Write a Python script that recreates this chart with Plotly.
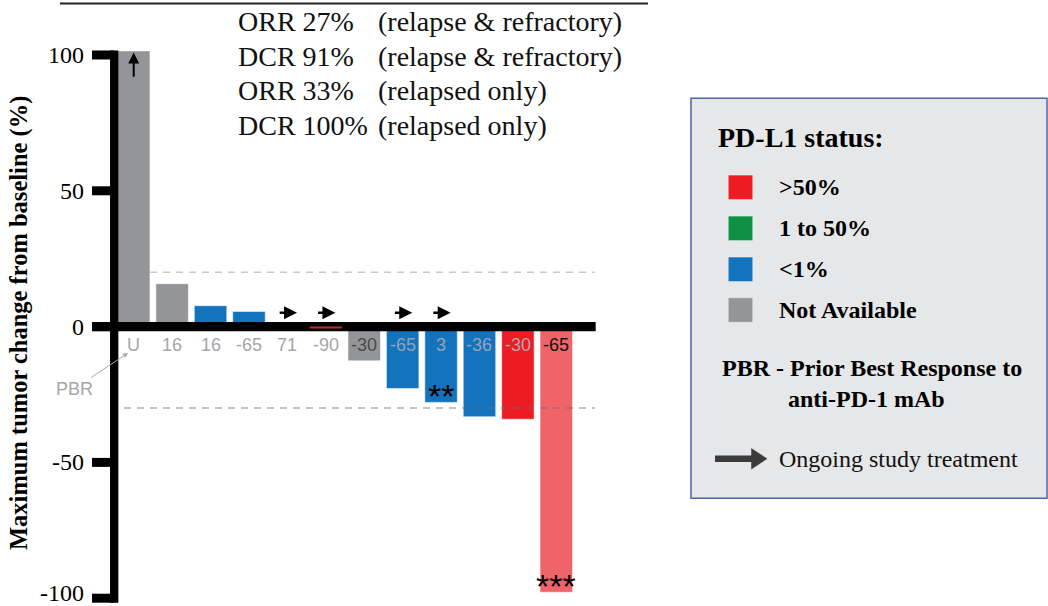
import plotly.graph_objects as go

W, H = 1048, 606

# ---------------- data ----------------
patients = list(range(12))
pct_change = [101.5, 15.8, 7.7, 5.6, 1.6, -0.3, -12.6, -22.8, -27.9, -33.2, -34.1, -97.8]
pdl1_status = ["NA", "NA", "<1%", "<1%", "1-50%", ">50%", "NA", "<1%", "<1%", "<1%", ">50%", ">50%b"]
pbr_labels = ["U", "16", "16", "-65", "71", "-90", "-30", "-65", "3", "-36", "-30", "-65"]
ongoing = [0, 0, 0, 0, 1, 1, 0, 1, 1, 0, 0, 0]
off_scale = [1, 0, 0, 0, 0, 0, 0, 0, 0, 0, 0, 0]
asterisks = ["", "", "", "", "", "", "", "", "**", "", "", "***"]
y_ticks = [-100, -50, 0, 50, 100]
y_tick_labels = ["-100", "-50", "0", "50", "100"]
ref_lines = [20, -30]
summary_left = ["ORR 27%", "DCR 91%", "ORR 33%", "DCR 100%"]
summary_right = ["(relapse & refractory)", "(relapse & refractory)",
                 "(relapsed only)", "(relapsed only)"]
legend_labels = [">50%", "1 to 50%", "<1%", "Not Available"]
legend_keys = [">50%", "1-50%", "<1%", "NA"]

# ---------------- styles ----------------
STATUS_COLORS = {">50%": "#ED1C24", "1-50%": "#0E9144", "<1%": "#1373BD",
                 "NA": "#939598", ">50%b": "#F06368"}
LABEL_COLORS = ["#a4a6a9"] * 6 + ["#4a4a4a"] + ["#93a3b8"] * 3 + ["#b9a4a6", "#111111"]
SERIF = "Liberation Serif"
SANS = "Liberation Sans"

def px(x):
    return x / W

def py(y):
    return 1 - y / H

# axis geometry
X_RANGE = [-0.513, 12.033]
Y_RANGE = [-102.87, 105.52]
X_DOMAIN = [114 / W, 596 / W]
Y_DOMAIN = [0, 566 / H]

fig = go.Figure()
fig.add_trace(go.Bar(
    x=patients, y=pct_change,
    marker=dict(color=[STATUS_COLORS[s] for s in pdl1_status],
                line=dict(color="rgba(255,255,255,0.55)", width=1)),
    width=0.846, showlegend=False, hoverinfo="skip",
))

shapes = []
# reference dashed lines
shapes.append(dict(type="line", xref="paper", yref="y", x0=px(124), x1=px(595),
                   y0=ref_lines[0], y1=ref_lines[0], layer="below",
                   line=dict(color="#c8c9cb", width=1.5, dash="7px,6px")))
shapes.append(dict(type="line", xref="paper", yref="y", x0=px(124), x1=px(595),
                   y0=ref_lines[1], y1=ref_lines[1], layer="above",
                   line=dict(color="rgba(110,110,110,0.55)", width=1.5, dash="7px,6px")))
# y ticks
for t in y_ticks:
    shapes.append(dict(type="line", xref="paper", yref="y", x0=px(92), x1=px(114),
                       y0=t, y1=t, layer="above", line=dict(color="black", width=9)))
# vertical axis line
shapes.append(dict(type="line", xref="paper", yref="y", x0=px(114.2), x1=px(114.2),
                   y0=101.7, y1=-101.7, layer="above",
                   line=dict(color="black", width=8.3)))
# zero line
shapes.append(dict(type="line", xref="paper", yref="y", x0=px(92), x1=px(595.7),
                   y0=0, y1=0, layer="above", line=dict(color="black", width=9.4)))
# tiny bars hidden in the zero line drawn on top
for i, v in enumerate(pct_change):
    if -1 < v < 0:
        shapes.append(dict(type="line", xref="x", yref="y", x0=i - 0.42, x1=i + 0.42,
                           y0=v, y1=v, layer="above",
                           line=dict(color="#c8272d", width=2)))
# top underline
shapes.append(dict(type="line", xref="paper", yref="paper", x0=px(60), x1=px(648),
                   y0=py(3.5), y1=py(3.5), line=dict(color="#222", width=2)))

# legend box
shapes.append(dict(type="rect", xref="paper", yref="paper", x0=px(691), x1=px(1047),
                   y0=py(498.3), y1=py(98.3), fillcolor="#e6e7e8",
                   line=dict(color="#5261a8", width=1.5), layer="below"))
leg_y = [187.3, 228.3, 269.3, 310.0]
for k, yy in zip(legend_keys, leg_y):
    shapes.append(dict(type="rect", xref="paper", yref="paper", x0=px(728.3), x1=px(752.7),
                       y0=py(yy + 12.2), y1=py(yy - 12.2), fillcolor=STATUS_COLORS[k],
                       line=dict(color="rgba(255,255,255,0.35)", width=1)))
# legend arrow
shapes.append(dict(type="line", xref="paper", yref="paper", x0=px(715), x1=px(753),
                   y0=py(458.7), y1=py(458.7), line=dict(color="#3b3b3b", width=6.5)))
shapes.append(dict(type="path", xref="paper", yref="paper",
                   path=f"M {px(751.5)} {py(448.5)} L {px(767)} {py(458.7)} L {px(751.5)} {py(469)} Z",
                   fillcolor="#3b3b3b", line=dict(color="#3b3b3b", width=0.5)))

ann = []
# y tick labels (the lowest one is kept inside the page)
for t, lab in zip(y_ticks, y_tick_labels):
    if t == min(y_ticks):
        ann.append(dict(x=px(86), y=0, xref="paper", yref="paper", text=lab, showarrow=False,
                        xanchor="right", yanchor="bottom", yshift=-2,
                        font=dict(family=SERIF, size=24, color="black")))
    else:
        ann.append(dict(x=px(86), y=t, xref="paper", yref="y", text=lab, showarrow=False,
                        xanchor="right", yanchor="middle",
                        font=dict(family=SERIF, size=24, color="black")))
# PBR labels under the zero line
for i, (lab, col) in enumerate(zip(pbr_labels, LABEL_COLORS)):
    ann.append(dict(x=i, y=0, xref="x", yref="y", yshift=-18, text=lab, showarrow=False,
                    font=dict(family=SANS, size=18, color=col), yanchor="middle"))
# ongoing arrows
for i, on in enumerate(ongoing):
    if on:
        ann.append(dict(x=i + 0.25, y=5.1, ax=i - 0.24, ay=5.1, xref="x", yref="y",
                        axref="x", ayref="y", text="", showarrow=True, arrowhead=2,
                        arrowsize=1, arrowwidth=2.6, arrowcolor="black", standoff=0))
# off-scale arrow
for i, o in enumerate(off_scale):
    if o:
        ann.append(dict(x=i, y=100.9, ax=i, ay=91.4, xref="x", yref="y", axref="x", ayref="y",
                        text="", showarrow=True, arrowhead=2, arrowsize=1.1, arrowwidth=2,
                        arrowcolor="black", standoff=0))
# asterisks
for i, a in enumerate(asterisks):
    if a:
        ann.append(dict(x=i, y=pct_change[i], xref="x", yref="y", text=a, showarrow=False,
                        yanchor="middle", yshift=6,
                        font=dict(family=SANS, size=34, color="black")))
# PBR pointer
ann.append(dict(x=px(128), y=py(353), xref="paper", yref="paper", ax=-54, ay=36,
                text="PBR", showarrow=True, arrowhead=2, arrowsize=1, arrowwidth=1,
                arrowcolor="#a4a6a9", font=dict(family=SANS, size=18, color="#a4a6a9")))
# y title
ann.append(dict(x=px(19), y=py(323), xref="paper", yref="paper", textangle=-90,
                xanchor="center", yanchor="middle",
                text="<b>Maximum tumor change from baseline (%)</b>", showarrow=False,
                font=dict(family=SERIF, size=24.5, color="black")))
# summary text
for j, (l, r) in enumerate(zip(summary_left, summary_right)):
    yy = 21 + 35 * j
    ann.append(dict(x=px(236), y=py(yy), xref="paper", yref="paper", text=l,
                    xanchor="left", yanchor="middle", showarrow=False,
                    font=dict(family=SERIF, size=28, color="#111")))
    ann.append(dict(x=px(376), y=py(yy), xref="paper", yref="paper", text=r,
                    xanchor="left", yanchor="middle", showarrow=False,
                    font=dict(family=SERIF, size=28, color="#111")))
# legend text
ann.append(dict(x=px(716), y=py(137), xref="paper", yref="paper", text="<b>PD-L1 status:</b>",
                xanchor="left", yanchor="middle", showarrow=False,
                font=dict(family=SERIF, size=28, color="black")))
for lab, yy in zip(legend_labels, leg_y):
    ann.append(dict(x=px(776.5), y=py(yy), xref="paper", yref="paper", text=f"<b>{lab}</b>",
                    xanchor="left", yanchor="middle", showarrow=False,
                    font=dict(family=SERIF, size=24, color="black")))
ann.append(dict(x=px(872), y=py(368.5), xref="paper", yref="paper",
                text="<b>PBR - Prior Best Response to</b>", xanchor="center", yanchor="middle",
                showarrow=False, font=dict(family=SERIF, size=24, color="black")))
ann.append(dict(x=px(866), y=py(398.5), xref="paper", yref="paper",
                text="<b>anti-PD-1 mAb</b>", xanchor="center", yanchor="middle",
                showarrow=False, font=dict(family=SERIF, size=24, color="black")))
ann.append(dict(x=px(777), y=py(458.5), xref="paper", yref="paper",
                text="Ongoing study treatment", xanchor="left", yanchor="middle",
                showarrow=False, font=dict(family=SERIF, size=24, color="#111")))

fig.update_layout(
    width=W, height=H, margin=dict(l=0, r=0, t=0, b=0),
    paper_bgcolor="white", plot_bgcolor="rgba(0,0,0,0)",
    bargap=0.154, shapes=shapes, annotations=ann, showlegend=False,
    xaxis=dict(range=X_RANGE, domain=X_DOMAIN, visible=False, fixedrange=True),
    yaxis=dict(range=Y_RANGE, domain=Y_DOMAIN, visible=False, fixedrange=True),
)

fig.write_html("out.html")
